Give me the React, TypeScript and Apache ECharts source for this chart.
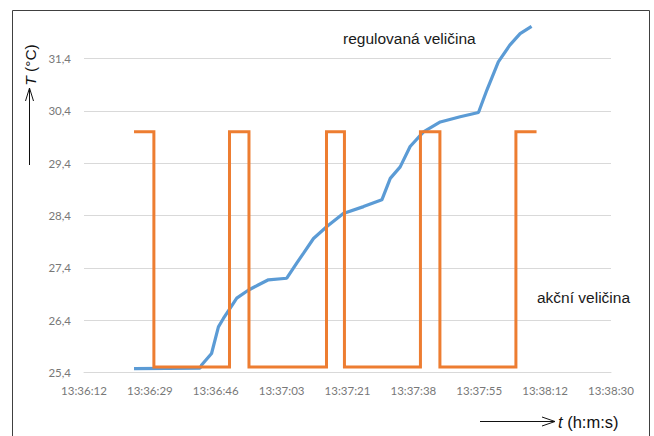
import React, { useEffect, useRef } from "react";
import * as echarts from "echarts";

// time in seconds from 13:36:12
const tempTimes = [13.1, 30.4, 30.8, 33.4, 35.2, 36.5, 38.2, 40.0, 43.0, 45.6, 48.3, 53.1, 55.7, 57.5, 60.1, 63.6, 67.9, 73.2, 78.0, 80.2, 82.8, 85.4, 88.9, 93.3, 98.5, 103.3, 105.5, 108.5, 111.5, 114.2, 117.2];
const tempValues = [25.47, 25.48, 25.54, 25.76, 26.27, 26.43, 26.62, 26.82, 26.97, 27.07, 27.17, 27.2, 27.49, 27.68, 27.96, 28.19, 28.44, 28.57, 28.7, 29.11, 29.33, 29.72, 30.0, 30.19, 30.29, 30.37, 30.8, 31.34, 31.66, 31.88, 32.02];

const actionTimes = [13.1, 18.3, 18.3, 38.1, 38.1, 43.2, 43.2, 63.5, 63.5, 68.2, 68.2, 88.1, 88.1, 93.2, 93.2, 113.1, 113.1, 118.5];
const actionValues = [30.0, 30.0, 25.5, 25.5, 30.0, 30.0, 25.5, 25.5, 30.0, 30.0, 25.5, 25.5, 30.0, 30.0, 25.5, 25.5, 30.0, 30.0];

const xTickLabels = ["13:36:12", "13:36:29", "13:36:46", "13:37:03", "13:37:21", "13:37:38", "13:37:55", "13:38:12", "13:38:30"];
const xInterval = 17.25;
const yMin = 25.4;
const yMax = 31.4;

export default function App() {
  const ref = useRef<HTMLDivElement>(null);
  useEffect(() => {
    document.body.style.margin = "0";
    const chart = echarts.init(ref.current!, null, { renderer: "svg" });
    const labelFont = "Lato, 'Liberation Sans', sans-serif";
    const annFont = "'Liberation Sans', Arial, sans-serif";
    chart.setOption({
      animation: false,
      backgroundColor: "#ffffff",
      grid: { left: 84, right: 43, top: 58.7, bottom: 63.7 },
      xAxis: {
        type: "value",
        min: 0,
        max: xInterval * (xTickLabels.length - 1),
        interval: xInterval,
        axisLine: { show: true, lineStyle: { color: "#d9d9d9", width: 1 } },
        axisTick: { show: false },
        splitLine: { show: false },
        axisLabel: {
          color: "#787878",
          fontSize: 11.5,
          fontFamily: labelFont,
          margin: 12,
          formatter: (v: number) => xTickLabels[Math.round(v / xInterval)] ?? "",
        },
      },
      yAxis: {
        type: "value",
        min: yMin,
        max: yMax,
        interval: 1,
        axisLine: { show: false },
        axisTick: { show: false },
        splitLine: { show: true, lineStyle: { color: "#d9d9d9", width: 1 } },
        axisLabel: {
          color: "#787878",
          fontSize: 11.5,
          fontFamily: labelFont,
          margin: 13,
          formatter: (v: number) => v.toFixed(1).replace(".", ","),
        },
      },
      series: [
        {
          type: "line",
          data: tempTimes.map((t, i) => [t, tempValues[i]]),
          showSymbol: false,
          clip: false,
          lineStyle: { color: "#5b9bd5", width: 3.2 },
          z: 2,
        },
        {
          type: "line",
          data: actionTimes.map((t, i) => [t, actionValues[i]]),
          showSymbol: false,
          clip: false,
          lineStyle: { color: "#ed7d31", width: 3, join: "miter" },
          z: 3,
        },
      ],
      graphic: [
        {
          type: "rect",
          shape: { x: 12.5, y: 10.5, width: 637, height: 460 },
          style: { fill: "none", stroke: "#404040", lineWidth: 1 },
          z: 10,
        },
        {
          type: "line",
          shape: { x1: 29.5, y1: 165, x2: 29.5, y2: 88 },
          style: { stroke: "#111", lineWidth: 1 },
        },
        {
          type: "polyline",
          shape: { points: [[25.5, 101], [29.5, 88], [33.5, 101]] },
          style: { stroke: "#111", lineWidth: 1, fill: "none" },
        },
        {
          type: "text",
          x: 30,
          y: 65,
          rotation: Math.PI / 2,
          style: {
            text: "{i|T} (°C)",
            align: "center",
            verticalAlign: "middle",
            fontFamily: annFont,
            fontSize: 15.5,
            fill: "#111",
            rich: {
              i: { fontStyle: "italic", fontFamily: annFont, fontSize: 15.5, fill: "#111" },
            },
          },
        },
        {
          type: "line",
          shape: { x1: 480, y1: 421.5, x2: 555, y2: 421.5 },
          style: { stroke: "#111", lineWidth: 1 },
        },
        {
          type: "polyline",
          shape: { points: [[542, 417], [555, 421.5], [542, 426]] },
          style: { stroke: "#111", lineWidth: 1, fill: "none" },
        },
        {
          type: "text",
          x: 558,
          y: 421.5,
          style: {
            text: "{i|t} (h:m:s)",
            align: "left",
            verticalAlign: "middle",
            fontFamily: annFont,
            fontSize: 16.5,
            fill: "#111",
            rich: {
              i: { fontStyle: "italic", fontFamily: annFont, fontSize: 16.5, fill: "#111" },
            },
          },
        },
        {
          type: "text",
          x: 343,
          y: 38.5,
          style: {
            text: "regulovaná veličina",
            align: "left",
            verticalAlign: "middle",
            fontFamily: annFont,
            fontSize: 15.5,
            fill: "#1a1a1a",
          },
        },
        {
          type: "text",
          x: 537,
          y: 297.5,
          style: {
            text: "akční veličina",
            align: "left",
            verticalAlign: "middle",
            fontFamily: annFont,
            fontSize: 15.5,
            fill: "#1a1a1a",
          },
        },
      ],
    });
    return () => chart.dispose();
  }, []);
  return <div ref={ref} style={{ width: 654, height: 436 }} />;
}
